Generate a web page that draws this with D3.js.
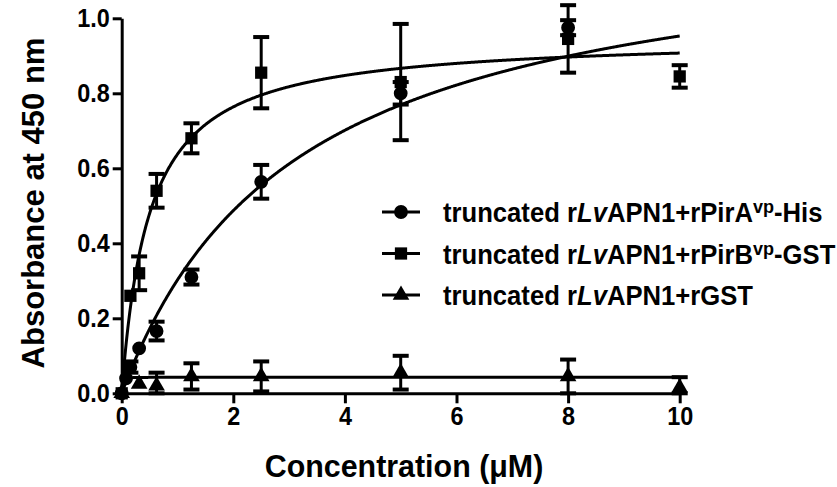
<!DOCTYPE html>
<html><head><meta charset="utf-8">
<script src="https://cdn.jsdelivr.net/npm/d3@7"></script>
<style>
html,body{margin:0;padding:0;background:#fff;}
svg{display:block;font-family:"Liberation Sans",Arial,sans-serif;font-weight:bold;}
</style></head>
<body>
<svg id="chart" width="837" height="487"></svg>
<script>
// ---- data ----
const xTicks = [0, 2, 4, 6, 8, 10];
const yTicks = [0, 0.2, 0.4, 0.6, 0.8, 1.0];

const concA = [0, 0.078, 0.156, 0.3125, 0.625, 1.25, 2.5, 5, 8];
const valA  = [0, 0.04, 0.07, 0.12, 0.166, 0.31, 0.564, 0.80, 0.975];
const errA  = [0, 0.01, 0.015, 0.01, 0.025, 0.02, 0.045, 0.03, 0.02];

const concB = [0, 0.156, 0.3125, 0.625, 1.25, 2.5, 5, 8, 10];
const valB  = [0, 0.26, 0.32, 0.54, 0.68, 0.855, 0.83, 0.945, 0.845];
const errB  = [0, 0.01, 0.045, 0.045, 0.04, 0.095, 0.155, 0.09, 0.03];

const concC = [0, 0.3125, 0.625, 1.25, 2.5, 5, 8, 10];
const valC  = [0, 0.025, 0.02, 0.045, 0.045, 0.055, 0.045, 0.015];
const errC  = [0, 0.01, 0.035, 0.035, 0.04, 0.045, 0.045, 0.028];

// one-site binding fit parameters [Bmax, Kd]
const fitA = [1.252, 3.14];
const fitB = [0.952, 0.493];
const fitC = [0.043, 0.006];

const seriesShapes = ["circle", "square", "triangle"];
const legendLabels = [
  ["truncated r", "Lv", "APN1+rPirA", "vp", "-His"],
  ["truncated r", "Lv", "APN1+rPirB", "vp", "-GST"],
  ["truncated r", "Lv", "APN1+rGST", "", ""]
];

// ---- chart ----
const svg = d3.select("#chart");
const x = d3.scaleLinear().domain([0, 10]).range([121.7, 679.7]);
const y = d3.scaleLinear().domain([0, 1]).range([393.3, 18.3]);

const series = [
  {conc: concA, val: valA, err: errA, fit: fitA, shape: seriesShapes[0]},
  {conc: concB, val: valB, err: errB, fit: fitB, shape: seriesShapes[1]},
  {conc: concC, val: valC, err: errC, fit: fitC, shape: seriesShapes[2]}
];

const symType = {circle: d3.symbolCircle, square: d3.symbolSquare, triangle: d3.symbolTriangle};
const symSize = {circle: 150, square: 150, triangle: 120};

// axes
const yAxis = d3.axisLeft(y).tickValues(yTicks).tickFormat(d3.format(".1f"))
  .tickSize(9).tickSizeOuter(0).tickPadding(3);
const xAxis = d3.axisBottom(x).tickValues(xTicks).tickFormat(d3.format("d"))
  .tickSize(10).tickSizeOuter(0).tickPadding(3);

const gy = svg.append("g").attr("transform", `translate(${x(0)},0)`).call(yAxis);
const gx = svg.append("g").attr("transform", `translate(0,${y(0)})`).call(xAxis);
[gx, gy].forEach(g => {
  g.selectAll("path.domain").attr("stroke", "#000").attr("stroke-width", 3);
  g.selectAll(".tick line").attr("stroke", "#000").attr("stroke-width", 3);
  g.selectAll(".tick text").attr("fill", "#000").style("font-size", "26px")
    .style("font-family", "Liberation Sans, Arial, sans-serif").style("font-weight", "bold");
});
// slightly condensed tick labels, like the reference
gy.selectAll(".tick text").each(function() {
  const t = d3.select(this);
  const xx = +t.attr("x");
  t.attr("x", null).attr("transform", `translate(${xx},0) scale(0.9,1)`);
});
gx.selectAll(".tick text").attr("transform", "scale(0.9,1)");

// titles
svg.append("text").attr("transform", "translate(44,203) rotate(-90)")
  .attr("text-anchor", "middle").style("font-size", "31px").text("Absorbance at 450 nm");
svg.append("text").attr("transform", "translate(404,477) scale(0.95,1)")
  .attr("text-anchor", "middle").style("font-size", "32px").text("Concentration (μM)");

// fit curves
const xs = d3.range(0, 10.0001, 0.01);
const line = d3.line().x(d => x(d[0])).y(d => y(d[1]));
series.forEach(s => {
  const pts = [[0, 0]].concat(d3.range(0.0005, 0.05, 0.0005).map(v => [v, s.fit[0]*v/(s.fit[1]+v)]))
    .concat(xs.filter(v => v >= 0.05).map(v => [v, s.fit[0]*v/(s.fit[1]+v)]));
  svg.append("path").attr("d", line(pts)).attr("fill", "none")
    .attr("stroke", "#000").attr("stroke-width", 3);
});

// error bars + markers
series.forEach(s => {
  const g = svg.append("g");
  s.conc.forEach((c, i) => {
    const e = s.err[i];
    if (e >= 0.012) {
      const cx = x(c), y1 = y(s.val[i] + e), y2 = y(Math.max(0, s.val[i] - e));
      g.append("line").attr("x1", cx).attr("x2", cx).attr("y1", y1).attr("y2", y2)
        .attr("stroke", "#000").attr("stroke-width", 3);
      [y1, y2].forEach(yy => g.append("rect").attr("x", cx - 8).attr("y", yy - 2)
        .attr("width", 16).attr("height", 4).attr("fill", "#000"));
    }
  });
  g.selectAll("path.m").data(s.conc.map((c, i) => [c, s.val[i]])).join("path")
    .attr("class", "m")
    .attr("transform", d => `translate(${x(d[0])},${y(d[1])})`)
    .attr("d", d3.symbol(symType[s.shape], symSize[s.shape]))
    .attr("fill", "#000");
});

// legend
const legY = [212, 253.5, 295];
legendLabels.forEach((lab, i) => {
  const g = svg.append("g").attr("transform", `translate(0,${legY[i]})`);
  g.append("line").attr("x1", 382).attr("x2", 420).attr("y1", 0).attr("y2", 0)
    .attr("stroke", "#000").attr("stroke-width", 3);
  g.append("path").attr("transform", "translate(401,0)")
    .attr("d", d3.symbol(symType[seriesShapes[i]], symSize[seriesShapes[i]])).attr("fill", "#000");
  const t = g.append("text").attr("transform", "translate(443,10) scale(0.95,1)")
    .style("font-size", "27px");
  t.append("tspan").text(lab[0]);
  t.append("tspan").style("font-style", "italic").text(lab[1]);
  t.append("tspan").text(lab[2]);
  if (lab[3]) t.append("tspan").attr("dy", -9).style("font-size", "19px").text(lab[3]);
  if (lab[4]) t.append("tspan").attr("dy", 9).text(lab[4]);
});
</script>
</body></html>
